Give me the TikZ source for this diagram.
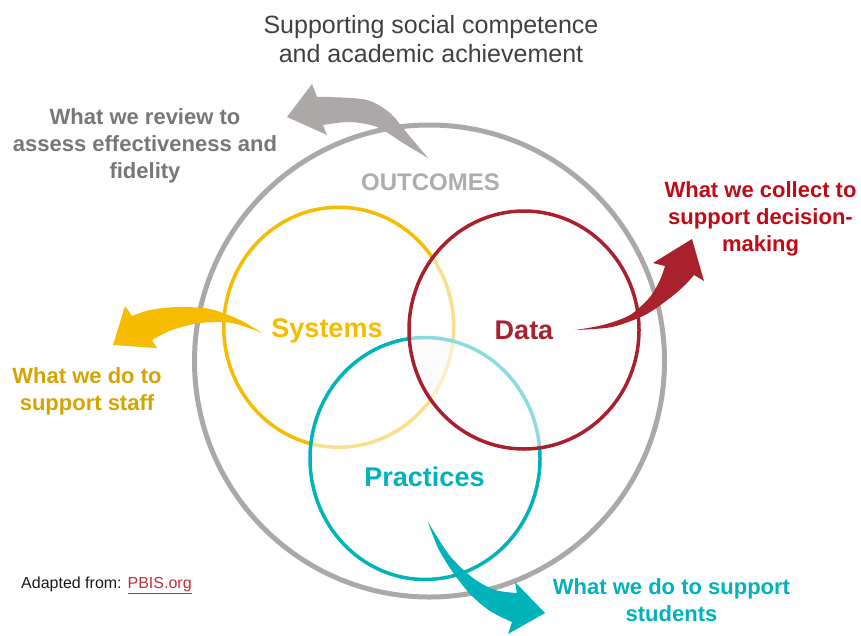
\documentclass[tikz,border=0pt]{standalone}
\usepackage{fontspec}
\setmainfont{Liberation Sans}
\usepackage{tikz}
\definecolor{ringgray}{RGB}{172,168,168}
\definecolor{sysyellow}{RGB}{245,188,0}
\definecolor{datared}{RGB}{168,33,45}
\definecolor{practeal}{RGB}{0,178,186}
\definecolor{staffgold}{RGB}{214,164,0}
\definecolor{collectred}{RGB}{192,10,22}
\definecolor{reviewgray}{RGB}{120,118,118}
\definecolor{outgray}{RGB}{176,172,172}
\definecolor{headgray}{RGB}{64,64,64}
\definecolor{linkred}{RGB}{192,48,56}
\tikzset{
    ring/.style={line width=3.5pt},
    blurb/.style={align=center, inner sep=0pt, anchor=north, font=\bfseries\fontsize{22}{27}\selectfont},
    hub/.style={inner sep=0pt, anchor=base, font=\bfseries\fontsize{27}{32}\selectfont},
}

\begin{document}
\begin{tikzpicture}[x=1pt, y=-1pt]
    \useasboundingbox (0,0) rectangle (861,635);
    \coordinate (out) at (429.5,361);
    \coordinate (sys) at (338.75,327.25);
    \coordinate (dat) at (524,330);
    \coordinate (pra) at (425,458.5);

    \draw[ringgray, line width=5pt] (out) ellipse [x radius=235pt, y radius=236pt];
    \draw[ring, sysyellow] (sys) ellipse [x radius=115pt, y radius=120pt];
    \draw[ring, practeal, fill=white, fill opacity=.55] (pra) ellipse [x radius=115pt, y radius=121pt];
    \draw[ring, datared, fill=white, fill opacity=.55] (dat) ellipse [x radius=115pt, y radius=119pt];
    \begin{scope}
        \clip (sys) ellipse [x radius=115pt, y radius=120pt];
        \clip (dat) ellipse [x radius=115pt, y radius=119pt];
        \fill[black, opacity=.015] (pra) ellipse [x radius=115pt, y radius=121pt];
    \end{scope}

    % curved arrows
    \fill[ringgray] plot[smooth] coordinates {(428,158) (407,133) (390,113) (367,100) (330,97) (317,97)}
        -- (312,84) -- (287,117) -- (327,135)
        -- plot[smooth] coordinates {(323,125) (350,122) (377,127) (403,143) (428,158)} -- cycle;
    \fill[sysyellow] plot[smooth] coordinates {(262,333) (240,320) (210,309) (177,307) (150,310) (132,316)}
        -- (125,306) -- (113,345) -- (157,348)
        -- plot[smooth] coordinates {(152,340) (172,330) (200,323) (232,323) (262,333)} -- cycle;
    \fill[datared] plot[smooth] coordinates {(575,330) (603,325) (630,315) (650,297) (660,280) (665,266)}
        -- (653,263) -- (692,239) -- (704,281)
        -- plot[smooth] coordinates {(694,275) (685,285) (670,298) (645,315) (612,327) (575,330)} -- cycle;
    \fill[practeal] plot[smooth] coordinates {(428,522) (450,556) (473,578) (495,590) (517,593)}
        -- (515,582) -- (545,613) -- (508,634)
        -- plot[smooth] coordinates {(512,622) (490,611) (470,594) (452,571) (438,548) (428,522)} -- cycle;

    \node[align=center, inner sep=0pt, anchor=north, font=\fontsize{25}{29}\selectfont, headgray] (goal) at (431,15)
        {Supporting social competence\\and academic achievement};
    \node[blurb, reviewgray] (review) at (145,108) {What we review to\\assess effectiveness and\\fidelity};
    \node[inner sep=0pt, anchor=base, font=\bfseries\fontsize{24}{28}\selectfont, outgray] (outcomes) at (430.5,190) {OUTCOMES};
    \node[blurb, collectred] (collect) at (760.5,181) {What we collect to\\support decision-\\making};
    \node[blurb, staffgold] (staff) at (87,367) {What we do to\\support staff};
    \node[blurb, practeal] (students) at (671.5,578) {What we do to support\\students};

    \node[hub, sysyellow] (systems) at (327,337) {Systems};
    \node[hub, datared] (data) at (524,339) {Data};
    \node[hub, practeal] (practices) at (424.5,486) {Practices};

    \node[inner sep=0pt, anchor=base west, font=\fontsize{16}{19}\selectfont, black!90] (source) at (21,588)
        {Adapted from: \textcolor{linkred}{\underline{PBIS.org}}};
\end{tikzpicture}
\end{document}
